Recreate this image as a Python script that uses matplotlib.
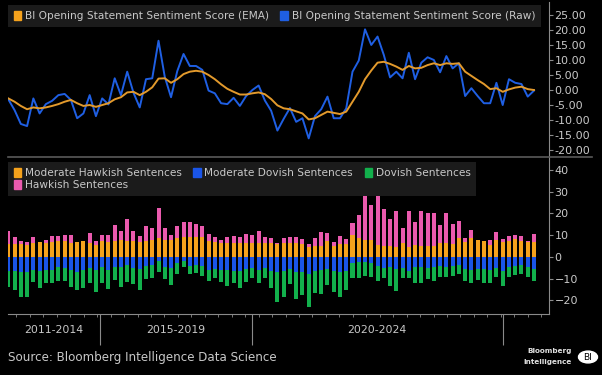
import numpy as np
import matplotlib.pyplot as plt
from matplotlib.patches import Patch, Circle
from matplotlib.lines import Line2D

W, H = 602, 375

# sentiment score, one point per statement
ema = [-2.8, -3.9, -5.3, -6.4, -5.8, -6.1, -5.8, -5.3, -4.7, -3.9,
       -3.3, -4.4, -5.3, -5.0, -5.6, -5.0, -4.4, -3.1, -2.4, -0.8,
       -0.6, -1.7, -0.6, 0.9, 3.8, 3.9, 2.4, 3.6, 5.3, 6.1,
       6.4, 6.1, 5.0, 3.6, 1.9, 0.4, -0.6, -1.5, -1.5, -1.1,
       -0.8, -1.4, -3.0, -5.1, -6.1, -6.4, -7.1, -7.8, -9.8, -9.4,
       -8.3, -7.2, -7.6, -8.0, -7.2, -3.9, -0.6, 3.6, 6.5, 9.1,
       9.4, 8.7, 7.8, 6.7, 8.0, 7.2, 7.4, 8.3, 8.9, 8.3,
       8.9, 8.7, 8.9, 6.1, 4.7, 3.3, 2.0, 0.3, 0.6, -0.6,
       0.2, 0.8, 1.1, 0.3, 0.0]
raw = [-3.1, -6.7, -11.3, -12.0, -2.8, -7.8, -4.7, -3.6, -1.7, -1.3,
       -3.3, -9.4, -7.8, -1.7, -8.7, -2.8, -4.8, 3.9, -1.7, 6.1,
       -0.9, -5.8, 3.6, 3.9, 16.4, 4.4, -2.4, 6.3, 12.0, 8.0,
       8.0, 6.7, -0.2, -1.1, -4.4, -4.7, -2.6, -5.3, -2.0, 0.0,
       1.5, -3.5, -6.9, -13.5, -9.6, -6.0, -10.6, -9.4, -16.1, -8.7,
       -6.4, -2.2, -9.4, -9.4, -6.1, 6.1, 9.8, 20.2, 15.0, 17.8,
       11.7, 4.2, 6.1, 3.9, 12.4, 3.6, 9.1, 10.9, 10.0, 5.9,
       11.3, 7.2, 8.9, -2.0, 0.6, -2.0, -4.4, -4.4, 2.4, -5.0,
       3.6, 2.4, 2.0, -2.2, -0.2]

# sentence counts (stacked bars)
mod_hawk = [6.0, 6.0, 6.0, 5.5, 6.5, 6.8, 6.3, 7.0, 7.5, 7.5,
            6.3, 6.8, 7.3, 6.3, 5.5, 7.5, 7.0, 7.5, 8.0, 7.5,
            7.5, 7.0, 7.5, 8.0, 8.5, 8.0, 8.0, 8.5, 9.0, 9.0,
            9.0, 9.0, 7.5, 7.0, 6.5, 6.5, 6.5, 6.5, 6.5, 6.5,
            6.5, 6.5, 6.5, 6.0, 6.5, 6.5, 6.5, 6.0, 4.5, 5.0,
            5.0, 7.5, 5.0, 6.0, 6.0, 10.3, 8.9, 8.0, 8.0, 5.5,
            5.0, 5.0, 4.5, 6.5, 4.5, 5.5, 4.8, 4.8, 4.8, 6.5,
            6.5, 6.0, 8.9, 7.0, 8.5, 8.0, 7.1, 5.5, 7.7, 7.0,
            7.3, 8.3, 7.3, 7.0, 7.0]
hawk = [6.1, 3.1, 1.3, 1.3, 2.6, 0.0, 1.6, 2.4, 2.2, 2.7,
        3.9, 0.0, 0.0, 4.6, 1.8, 2.7, 3.2, 7.3, 3.8, 9.8,
        4.3, 2.4, 6.7, 5.2, 13.9, 5.3, 2.3, 5.7, 7.2, 7.2,
        6.2, 5.4, 3.1, 2.1, 1.4, 2.6, 3.2, 2.6, 4.1, 3.8,
        5.2, 2.7, 2.0, 0.4, 2.4, 2.5, 2.5, 2.4, 1.5, 3.9,
        6.5, 3.7, 1.7, 3.6, 2.4, 5.3, 10.2, 20.7, 15.7, 22.7,
        16.9, 12.2, 16.6, 6.8, 16.7, 10.4, 16.1, 15.5, 15.5, 8.3,
        13.5, 9.2, 7.5, 1.8, 3.9, 0.0, 0.3, 2.2, 3.7, 1.3,
        2.1, 2.0, 2.5, 0.3, 3.6]
mod_dov = [-6.5, -6.5, -6.8, -7.0, -6.2, -6.5, -5.8, -6.2, -4.8, -5.2,
           -5.8, -6.8, -6.2, -5.2, -6.0, -4.8, -6.2, -4.8, -4.5, -3.8,
           -5.2, -5.5, -4.0, -3.5, -2.0, -4.5, -5.0, -3.0, -2.0, -4.0,
           -3.8, -4.3, -6.0, -5.5, -5.8, -6.0, -6.5, -6.5, -5.5, -5.0,
           -6.0, -5.0, -6.5, -7.0, -6.5, -5.5, -7.0, -7.0, -8.0, -6.5,
           -6.0, -5.5, -6.5, -7.0, -6.5, -3.0, -2.5, -2.5, -3.0, -4.0,
           -5.0, -4.5, -5.5, -5.0, -6.5, -4.5, -4.5, -5.0, -4.5, -4.0,
           -4.5, -4.0, -3.5, -5.5, -6.0, -5.5, -5.5, -6.0, -5.0, -6.5,
           -4.5, -4.0, -3.5, -4.5, -5.5]
dov = [-7.1, -8.7, -11.4, -11.5, -5.2, -7.9, -6.0, -5.9, -6.1, -5.7,
       -8.1, -8.4, -8.2, -6.9, -9.9, -7.3, -8.6, -5.8, -9.1, -7.6,
       -7.2, -9.7, -6.3, -6.3, -4.8, -5.8, -7.9, -4.9, -2.5, -3.9,
       -3.8, -4.5, -4.9, -4.3, -5.6, -7.3, -5.6, -7.9, -5.9, -4.8,
       -6.1, -4.8, -7.9, -13.9, -11.7, -6.9, -12.4, -10.4, -15.0, -10.2,
       -11.1, -7.4, -9.4, -11.6, -8.7, -6.8, -7.3, -6.3, -6.4, -6.9,
       -4.8, -8.8, -10.0, -4.5, -3.0, -7.6, -7.3, -5.3, -6.4, -5.4,
       -4.9, -4.8, -4.4, -5.4, -5.8, -5.1, -6.3, -5.8, -4.1, -6.8,
       -4.6, -4.3, -4.4, -4.9, -5.4]

periods = ['2011-2014', '2015-2019', '2020-2024']
period_breaks = [14.65, 38.9, 79.0]

top_labels = ['BI Opening Statement Sentiment Score (EMA)',
              'BI Opening Statement Sentiment Score (Raw)']
bar_labels = ['Moderate Hawkish Sentences', 'Moderate Dovish Sentences',
              'Dovish Sentences', 'Hawkish Sentences']

C_ORANGE = '#f5a21c'
C_EMA = '#e39a2c'
C_BLUE = '#1f5fe3'
C_BAR_BLUE = '#1a55e8'
C_GREEN = '#12b04c'
C_PINK = '#ea5aae'
C_TXT = '#c8c8c8'
C_AX = '#8a8a8a'

plt.rcParams['font.family'] = ['DejaVu Sans']

fig = plt.figure(figsize=(W / 100, H / 100), dpi=100, facecolor='black')


def px_axes(x0, y0, x1, y1):
    return fig.add_axes([x0 / W, 1 - y1 / H, (x1 - x0) / W, (y1 - y0) / H])


x = np.arange(len(raw))
xlim = (-0.05, 86.4)

# ---- top panel: sentiment score lines
ax1 = px_axes(8, 2, 549, 157)
ax1.set_facecolor('black')
ax1.plot(x, ema, color=C_EMA, lw=1.4, label=top_labels[0], zorder=3)
ax1.plot(x, raw, color=C_BLUE, lw=1.4, label=top_labels[1], zorder=2)
ax1.set_xlim(*xlim)
ax1.set_ylim(-22.3, 29.3)
ax1.set_yticks(np.arange(-20, 26, 5))
ax1.yaxis.set_major_formatter(lambda v, p: '%.2f' % v)

# ---- bottom panel: stacked sentence counts
ax2 = px_axes(8, 157, 549, 314)
ax2.set_facecolor('black')
bw = 0.64
ax2.bar(x, mod_hawk, width=bw, color=C_ORANGE, lw=0)
ax2.bar(x, hawk, bottom=mod_hawk, width=bw, color=C_PINK, lw=0)
ax2.bar(x, mod_dov, width=bw, color=C_BAR_BLUE, lw=0)
ax2.bar(x, dov, bottom=mod_dov, width=bw, color=C_GREEN, lw=0)
ax2.set_xlim(*xlim)
ax2.set_ylim(-26.2, 45.9)
ax2.set_yticks(np.arange(-20, 41, 10))

for ax in (ax1, ax2):
    for s in ('top', 'left', 'bottom'):
        ax.spines[s].set_visible(False)
    ax.spines['right'].set_color(C_AX)
    ax.yaxis.tick_right()
    ax.tick_params(axis='y', colors=C_AX, labelcolor=C_TXT, labelsize=8,
                   length=3, width=0.8, pad=1)

ax1.tick_params(axis='x', bottom=False, labelbottom=False)
ax2.spines['bottom'].set_visible(True)
ax2.spines['bottom'].set_color(C_AX)
ax2.set_xticks(period_breaks)
ax2.set_xticks(np.arange(1.3, 86, 2.15), minor=True)
ax2.tick_params(axis='x', which='major', colors=C_AX, length=22, width=0.8,
                labelbottom=False)
ax2.tick_params(axis='x', which='minor', colors=C_AX, length=2, width=0.6)

edges = [xlim[0]] + period_breaks
for i, lab in enumerate(periods):
    ax2.text((edges[i] + edges[i + 1]) / 2, -0.102, lab, color=C_TXT,
             fontsize=7.8, ha='center', va='center',
             transform=ax2.get_xaxis_transform())

# separator between the panels
fig.add_artist(Line2D([8 / W, 592 / W], [1 - 157 / H, 1 - 157 / H],
                      color='#5a5a5a', lw=1.2))

# legends
leg_kw = dict(loc='upper left', fontsize=7.6, labelcolor=C_TXT,
              facecolor='#1b1b1b', edgecolor='none', fancybox=False,
              framealpha=1, handlelength=0.7, handleheight=0.9,
              handletextpad=0.35, borderaxespad=0)
ax1.legend([Patch(color=C_ORANGE), Patch(color=C_BLUE)], top_labels,
           ncol=2, bbox_to_anchor=(0, 0.98), columnspacing=1.1,
           borderpad=0.55, **leg_kw)
cols = [C_ORANGE, C_PINK, C_BAR_BLUE, C_GREEN]
labs = [bar_labels[0], bar_labels[3], bar_labels[1], bar_labels[2]]
ax2.legend([Patch(color=c) for c in cols], labs, ncol=3,
           bbox_to_anchor=(0, 0.968), columnspacing=1.1, borderpad=0.55,
           labelspacing=0.2, **leg_kw)

# footer
fig.text(8 / W, 1 - 357 / H, 'Source: Bloomberg Intelligence Data Science',
         color=C_TXT, fontsize=8.6, ha='left', va='center')
fig.text(572 / W, 1 - 351 / H, 'Bloomberg', color='#e0e0e0', fontsize=5.2,
         fontweight='bold', ha='right', va='center')
fig.text(572 / W, 1 - 362 / H, 'Intelligence', color='#e0e0e0', fontsize=5.2,
         fontweight='bold', ha='right', va='center')
fig.add_artist(Circle((588 / W, 1 - 357 / H), 9.5 / W, color='white',
                      transform=fig.transFigure))
fig.text(588 / W, 1 - 357 / H, 'BI', color='black', fontsize=6.5,
         ha='center', va='center')

fig.savefig('out.png', dpi=100, facecolor='black')
